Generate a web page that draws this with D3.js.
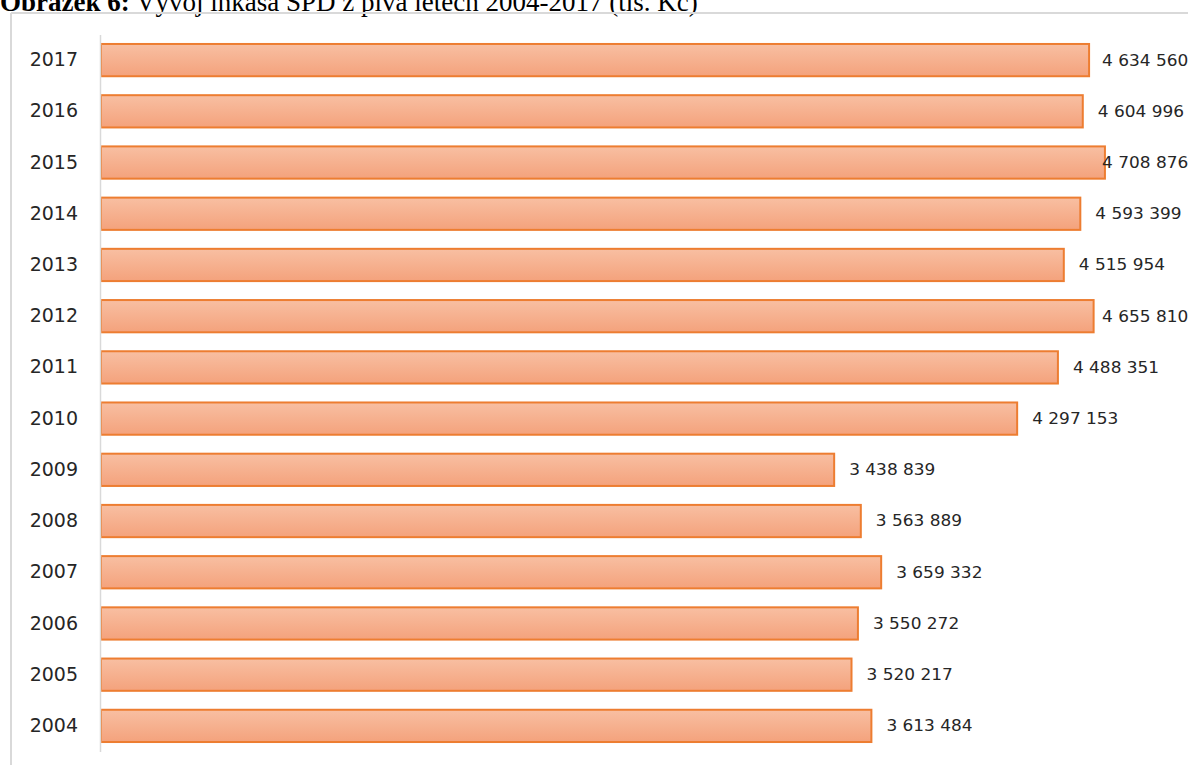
<!DOCTYPE html>
<html>
<head>
<meta charset="utf-8">
<script src="https://cdn.jsdelivr.net/npm/d3@7"></script>
<style>
  html, body { margin: 0; padding: 0; background: #fff; }
  svg { display: block; }
</style>
</head>
<body>
<svg id="chart" width="1188" height="765"></svg>
<script>
// Inkaso SPD z piva, tis. Kč
const years = ["2017","2016","2015","2014","2013","2012","2011","2010","2009","2008","2007","2006","2005","2004"];
const values = [4634560, 4604996, 4708876, 4593399, 4515954, 4655810, 4488351, 4297153, 3438839, 3563889, 3659332, 3550272, 3520217, 3613484];

const svg = d3.select("#chart");
const W = 1188, H = 765;

// Caption above the chart frame
const title = svg.append("text")
  .attr("x", 0).attr("y", 11)
  .attr("font-family", "'Liberation Serif', 'Times New Roman', serif")
  .attr("font-size", 27)
  .attr("fill", "#000");
title.append("tspan").attr("font-weight", "bold").text("Obrázek 6:");
title.append("tspan").text(" Vývoj inkasa SPD z piva letech 2004-2017 (tis. Kč)");

// Chart frame (top and left edges visible)
svg.append("line").attr("x1", 11).attr("x2", W).attr("y1", 13).attr("y2", 13)
  .attr("stroke", "#d9d9d9").attr("stroke-width", 2);
svg.append("line").attr("x1", 11).attr("x2", 11).attr("y1", 13).attr("y2", H)
  .attr("stroke", "#d9d9d9").attr("stroke-width", 2);

// Scales
const x0 = 101;
const x = d3.scaleLinear().domain([0, 5000000]).range([x0, x0 + 1066]);
const y = d3.scaleBand().domain(years).range([34.5, 751.5]).paddingInner(0.37).paddingOuter(0.185);

// Gradient fill for bars
const defs = svg.append("defs");
const grad = defs.append("linearGradient").attr("id", "barGrad")
  .attr("x1", 0).attr("y1", 0).attr("x2", 0).attr("y2", 1);
grad.append("stop").attr("offset", "0%").attr("stop-color", "#f8bfa2");
grad.append("stop").attr("offset", "100%").attr("stop-color", "#f4a27c");

// Bars
svg.append("g").selectAll("rect")
  .data(years)
  .join("rect")
  .attr("x", x(0))
  .attr("y", (d) => y(d))
  .attr("width", (d, i) => x(values[i]) - x(0))
  .attr("height", y.bandwidth())
  .attr("fill", "url(#barGrad)")
  .attr("stroke", "#ed7d31")
  .attr("stroke-width", 2);

// Category axis
const yAxis = svg.append("g")
  .attr("transform", `translate(${x0 - 1},0)`)
  .call(d3.axisLeft(y).tickSize(0).tickPadding(22));
yAxis.select(".domain").attr("stroke", "#d9d9d9").attr("stroke-width", 1.5);
yAxis.selectAll("text")
  .attr("font-family", "'DejaVu Sans', sans-serif")
  .attr("font-size", 19)
  .attr("fill", "#262626");

// Value labels, kept inside the right edge of the chart area
const fmt = (v) => d3.format(",")(v).replace(/,/g, " ");
const labelMaxX = 1102;
svg.append("g").selectAll("text")
  .data(years)
  .join("text")
  .attr("transform", (d, i) =>
    `translate(${Math.min(x(values[i]) + 15, labelMaxX)},${y(d) + y.bandwidth() / 2}) scale(1.13,1)`)
  .attr("dy", "0.36em")
  .attr("font-family", "'DejaVu Sans', sans-serif")
  .attr("font-size", 15)
  .attr("fill", "#262626")
  .text((d, i) => fmt(values[i]));
</script>
</body>
</html>
